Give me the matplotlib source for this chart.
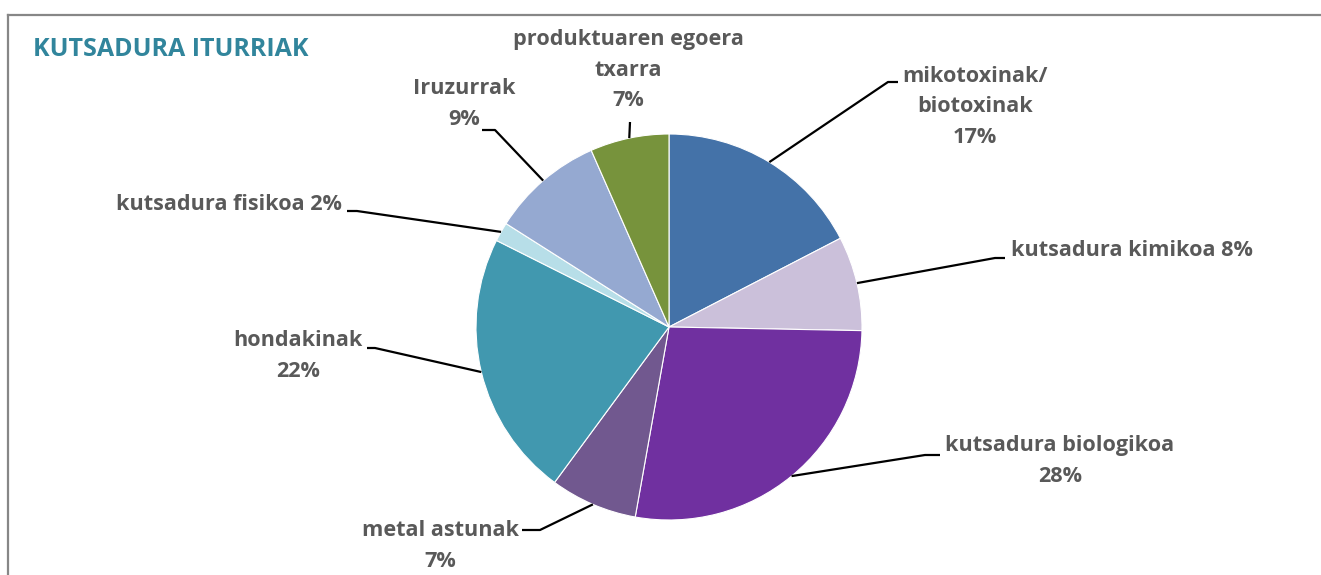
import numpy as np
import matplotlib
matplotlib.use("Agg")
import matplotlib.pyplot as plt

# slice data, clockwise from 12 o'clock
labels = ["mikotoxinak/\nbiotoxinak", "kutsadura kimikoa", "kutsadura biologikoa",
          "metal astunak", "hondakinak", "kutsadura fisikoa", "Iruzurrak",
          "produktuaren egoera\ntxarra"]
shares = [17.4, 7.9, 27.5, 7.3, 22.3, 1.6, 9.4, 6.6]
colors = ["#4472A8", "#CBC0DA", "#7030A0", "#71588F", "#4198AF", "#B7DEE8", "#95A9D1", "#77933C"]
# whether the percentage sits on the same line as the name
inline_pct = [False, True, False, False, False, True, False, False]

W, H = 1321, 575
fig = plt.figure(figsize=(W / 100, H / 100), dpi=100)
ax = fig.add_axes([0, 0, 1, 1])

cx, cy, R = 669, H - 327, 193
wedges, _ = ax.pie(shares, colors=colors, startangle=90, counterclock=False,
                   center=(cx, cy), radius=R, frame=True,
                   wedgeprops=dict(linewidth=0.8, edgecolor="white"))
ax.set_xlim(0, W)
ax.set_ylim(0, H)
ax.set_aspect("equal")
ax.axis("off")

# label layout: (text x, text y, ha, elbow x, elbow y, line end x) in pixel coords (y from top)
layout = [
    (975, 107, "center", 888, 82, 898),
    (1011, 250, "left", 995, 258, 1005),
    (1060, 461, "center", 925, 455, 940),
    (440, 546, "center", 540, 530, 522),
    (298, 356, "center", 375, 348, 367),
    (342, 205, "right", 357, 211, 347),
    (464, 104, "center", 495, 130, 482),
    (628, 70, "center", 630, 122, 630),
]

font = dict(family="Open Sans", fontweight="bold", color="#595959", fontsize=15.6)
for w, lab, val, inl, (tx, ty, ha, ex, ey, lx) in zip(wedges, labels, shares, inline_pct, layout):
    ang = np.deg2rad((w.theta1 + w.theta2) / 2)
    px, py = cx + R * np.cos(ang), cy + R * np.sin(ang)
    ax.plot([px, ex, lx], [py, H - ey, H - ey], color="black", lw=1.6, solid_capstyle="butt")
    pct = f"{round(val)}%"
    txt = f"{lab} {pct}" if inl else f"{lab}\n{pct}"
    ax.text(tx, H - ty, txt, ha=ha, va="center", multialignment="center",
            linespacing=1.6, **font)

ax.text(33, H - 50, "KUTSADURA ITURRIAK", ha="left", va="center",
        family="Open Sans", fontweight="bold", fontsize=18, color="#31859C")

# chart border (top and left visible)
ax.plot([8, W], [H - 15, H - 15], color="#878787", lw=1.6)
ax.plot([8, 8], [H - 15, 0], color="#878787", lw=1.6)

fig.savefig("out.png", dpi=100)
